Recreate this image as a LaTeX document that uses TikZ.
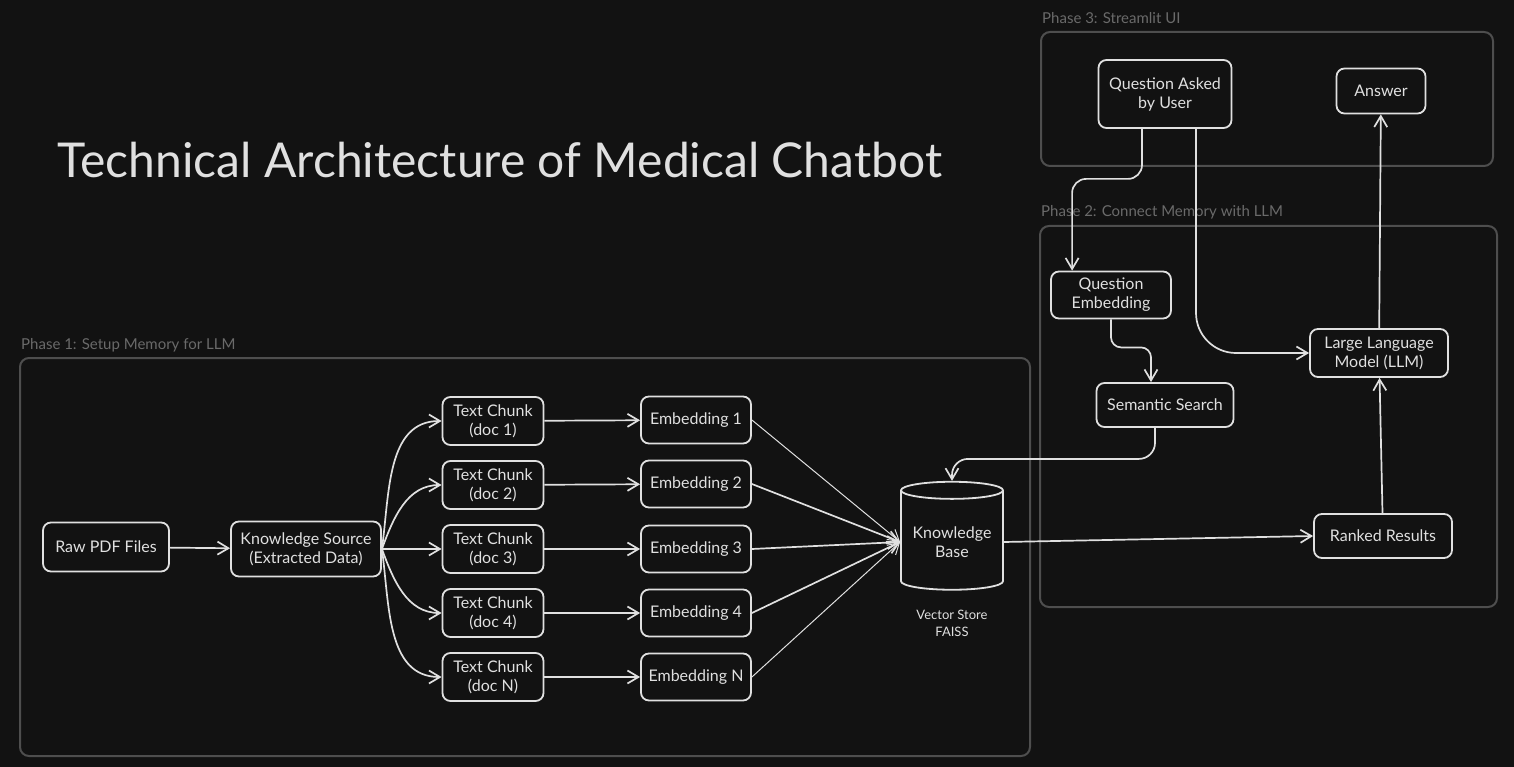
\documentclass[tikz,border=0pt]{standalone}
\usepackage{fontspec}
\setmainfont{Lato}
\usetikzlibrary{positioning, arrows.meta, calc, shapes.geometric}
\definecolor{canvas}{HTML}{121212}
\definecolor{chalk}{HTML}{E0E0E0}
\definecolor{frame}{HTML}{4E4E4E}
\definecolor{caption}{HTML}{6A6A6A}

\begin{document}
\begin{tikzpicture}[
    x=1pt, y=-1pt,
    box/.style={rectangle, draw=chalk, line width=1.8pt, text=chalk,
                rounded corners=8pt, inner sep=2pt, align=center,
                font=\fontsize{16}{19}\selectfont},
    chunk/.style={box, minimum width=101pt, minimum height=48pt},
    embed/.style={box, minimum width=110pt, minimum height=47pt},
    store/.style={cylinder, shape border rotate=90, aspect=0.2, draw=chalk,
                  line width=1.8pt, text=chalk, align=center,
                  font=\fontsize{16}{19}\selectfont,
                  minimum width=102pt, minimum height=108pt},
    phase/.style={draw=frame, line width=2pt, rounded corners=9pt},
    phaselabel/.style={text=caption, anchor=base west, inner sep=0pt,
                       font=\fontsize{15}{18}\selectfont},
    heading/.style={text=chalk, font=\fontsize{48}{54}\selectfont},
    note/.style={text=chalk, align=center, font=\fontsize{13}{17}\selectfont},
    arrow/.style={-{Straight Barb[length=11pt, width=13pt]}, line width=1.7pt, chalk},
    thin/.style={line width=1pt}
  ]
    \fill[canvas] (0,0) rectangle (1514,767);
    \useasboundingbox (0,0) rectangle (1514,767);

    \node[heading] (title) at (500,160) {Technical Architecture of Medical Chatbot};

    \draw[phase] (20,358) rectangle (1030,756);
    \draw[phase] (1040,226) rectangle (1497,607);
    \draw[phase] (1041,32) rectangle (1493,166);
    \node[phaselabel] (p1) at (21,349) {Phase 1: Setup Memory for LLM};
    \node[phaselabel] (p2) at (1041,217) {Phase 2: Connect Memory with LLM};
    \node[phaselabel] (p3) at (1042,24) {Phase 3: Streamlit UI};

    \node[box, minimum width=126pt, minimum height=49pt] (raw) at (106,547) {Raw PDF Files};
    \node[box, minimum width=150pt, minimum height=55pt] (ks) at (306,549) {Knowledge Source\\(Extracted Data)};

    \node[chunk] (c1) at (493,421) {Text Chunk\\(doc 1)};
    \node[chunk] (c2) at (493,485) {Text Chunk\\(doc 2)};
    \node[chunk] (c3) at (493,549) {Text Chunk\\(doc 3)};
    \node[chunk] (c4) at (493,613) {Text Chunk\\(doc 4)};
    \node[chunk] (cN) at (493,677) {Text Chunk\\(doc N)};

    \node[embed] (e1) at (696,420) {Embedding 1};
    \node[embed] (e2) at (696,484) {Embedding 2};
    \node[embed] (e3) at (696,549) {Embedding 3};
    \node[embed] (e4) at (696,613) {Embedding 4};
    \node[embed] (eN) at (696,677) {Embedding N};

    \node[store] (kb) at (952,542) {Knowledge\\Base};
    \node[note] (faiss) at (952,623) {Vector Store\\FAISS};

    \node[box, minimum width=133pt, minimum height=68pt] (qa) at (1165,94) {Question Asked\\by User};
    \node[box, minimum width=89pt, minimum height=45pt] (ans) at (1381,91) {Answer};
    \node[box, minimum width=120pt, minimum height=47pt] (qe) at (1111,295) {Question\\Embedding};
    \node[box, minimum width=137pt, minimum height=44pt] (ss) at (1165,405) {Semantic Search};
    \node[box, minimum width=138pt, minimum height=48pt] (llm) at (1379,353) {Large Language\\Model (LLM)};
    \node[box, minimum width=138pt, minimum height=44pt] (rr) at (1383,536) {Ranked Results};

    \draw[arrow] (raw) -- (ks);
    \draw[arrow] (ks.east) to[out=82, in=180] (c1.west);
    \draw[arrow] (ks.east) to[out=70, in=180] (c2.west);
    \draw[arrow] (ks.east) -- (c3.west);
    \draw[arrow] (ks.east) to[out=-70, in=180] (c4.west);
    \draw[arrow] (ks.east) to[out=-82, in=180] (cN.west);

    \draw[arrow] (c1) -- (e1);
    \draw[arrow] (c2) -- (e2);
    \draw[arrow] (c3) -- (e3);
    \draw[arrow] (c4) -- (e4);
    \draw[arrow] (cN) -- (eN);

    \draw[arrow, thin] (e1.east) -- (kb.west);
    \draw[arrow] (e2.east) -- (kb.west);
    \draw[arrow] (e3.east) -- (kb.west);
    \draw[arrow] (e4.east) -- (kb.west);
    \draw[arrow, thin] (eN.east) -- (kb.west);

    \draw[arrow] (kb.east) -- (rr.west);
    \draw[arrow] (rr) -- (llm);
    \draw[arrow] (llm) -- (ans);

    \draw[arrow, rounded corners=14pt] ($(qa.south)+(-23,0)$) -- ++(0,50) -| ($(qe.north west)+(22,0)$);
    \draw[arrow, rounded corners=40pt] ($(qa.south)+(31,0)$) |- (llm.west);
    \draw[arrow, rounded corners=10pt] (qe.south) -- ++(0,28) -| ($(ss.north)+(-14,0)$);
    \draw[arrow, rounded corners=16pt] ($(ss.south)+(-10,0)$) -- ++(0,31) -| (kb.north);
  \end{tikzpicture}
\end{document}
